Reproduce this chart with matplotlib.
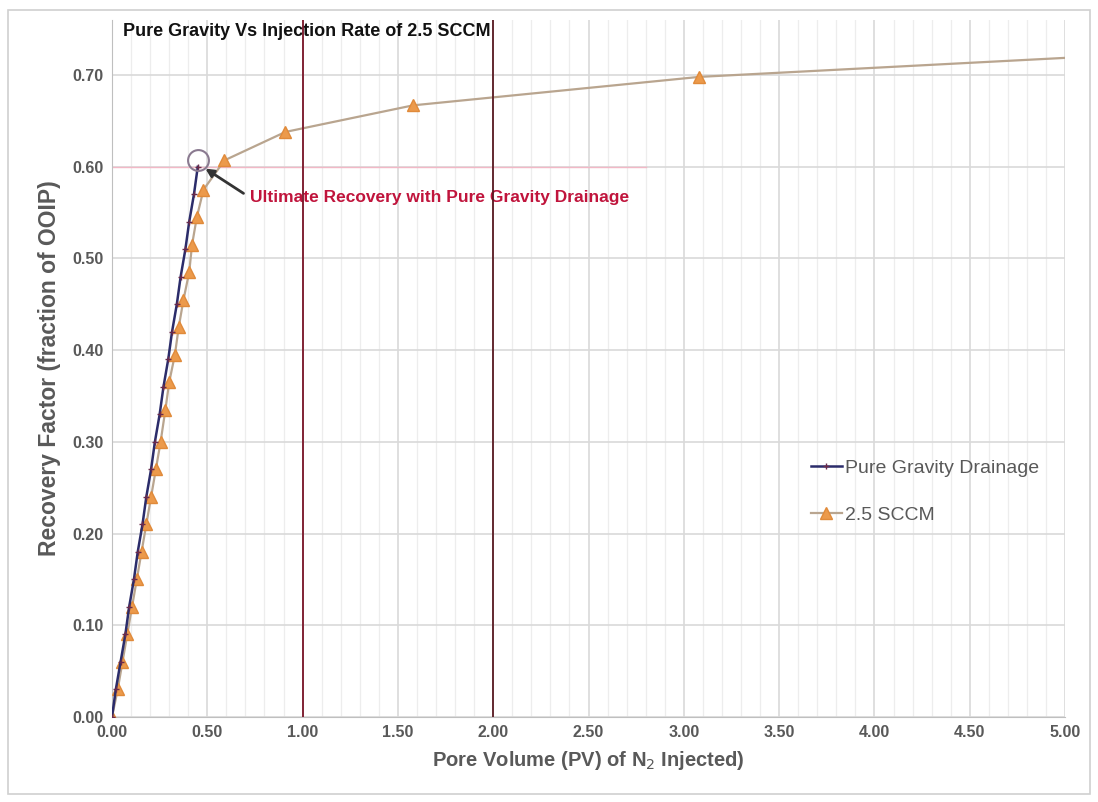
import matplotlib.pyplot as plt
from matplotlib.patches import Rectangle
from matplotlib.ticker import MultipleLocator, FormatStrFormatter

plt.rcParams["font.family"] = ["Liberation Sans", "DejaVu Sans"]

# Pure gravity drainage (PV injected, recovery factor)
gravity_pv = [0.00, 0.02, 0.045, 0.07, 0.09, 0.115, 0.135, 0.16, 0.18, 0.205, 0.225,
              0.25, 0.27, 0.295, 0.315, 0.34, 0.36, 0.385, 0.405, 0.43, 0.45]
gravity_rf = [0.00, 0.03, 0.06, 0.09, 0.12, 0.15, 0.18, 0.21, 0.24, 0.27, 0.30,
              0.33, 0.36, 0.39, 0.42, 0.45, 0.48, 0.51, 0.54, 0.57, 0.60]

# 2.5 SCCM injection
sccm_pv = [0.00, 0.03, 0.055, 0.08, 0.105, 0.13, 0.155, 0.18, 0.205, 0.23, 0.255,
           0.28, 0.30, 0.33, 0.35, 0.375, 0.405, 0.42, 0.445, 0.48,
           0.59, 0.91, 1.58, 3.08, 5.3]
sccm_rf = [0.00, 0.03, 0.06, 0.09, 0.12, 0.15, 0.18, 0.21, 0.24, 0.27, 0.30,
           0.335, 0.365, 0.395, 0.425, 0.455, 0.485, 0.515, 0.545, 0.575,
           0.607, 0.638, 0.667, 0.698, 0.722]

ultimate_pv = 0.45
ultimate_rf = 0.607

fig = plt.figure(figsize=(10.98, 8.02), dpi=100)
ax = fig.add_axes([0.102, 0.106, 0.868, 0.869])

fig.patches.append(Rectangle((0.007, 0.01), 0.986, 0.978, transform=fig.transFigure,
                             fill=False, edgecolor="#d0d0d0", lw=1.2))

ax.set_xlim(0, 5.0)
ax.set_ylim(0, 0.76)
ax.xaxis.set_major_locator(MultipleLocator(0.5))
ax.xaxis.set_minor_locator(MultipleLocator(0.1))
ax.xaxis.set_major_formatter(FormatStrFormatter("%.2f"))
ax.yaxis.set_major_formatter(FormatStrFormatter("%.2f"))
ax.set_yticks([0.0, 0.1, 0.2, 0.3, 0.4, 0.5, 0.6, 0.7])
ax.grid(True, which="major", color="#d9d9d9", lw=1.2)
ax.grid(True, which="minor", axis="x", color="#ededed", lw=0.9)
ax.set_axisbelow(True)
for s in ax.spines.values():
    s.set_visible(False)
ax.spines["left"].set_visible(True)
ax.spines["left"].set_color("#bfbfbf")
ax.spines["bottom"].set_visible(True)
ax.spines["bottom"].set_color("#bfbfbf")
ax.tick_params(which="both", length=0, labelsize=11.5, labelcolor="#595959", pad=6)
for lab in ax.get_xticklabels() + ax.get_yticklabels():
    lab.set_fontweight("bold")

ax.plot([0, 2.8], [0.6, 0.6], color="#f2b8c6", lw=1.0)

ax.plot(sccm_pv, sccm_rf, color="#b9a58f", lw=1.6, marker="^", ms=8,
        mfc="#ec9a4b", mec="#e08a3a", label="2.5 SCCM", zorder=3)
ax.plot(gravity_pv, gravity_rf, color="#2b2c6a", lw=1.8, marker="+", ms=5,
        mec="#6b2a4a", label="Pure Gravity Drainage", zorder=4)

ax.plot([ultimate_pv], [ultimate_rf], marker="o", ms=15, mfc="none",
        mec="#8a7a90", mew=1.5, zorder=5)
ax.annotate("", xy=(0.49, 0.598), xytext=(0.69, 0.571),
            arrowprops=dict(arrowstyle="-|>", color="#333333", lw=2.0,
                            mutation_scale=12, shrinkA=0, shrinkB=0))
ax.text(0.725, 0.567, "Ultimate Recovery with Pure Gravity Drainage",
        color="#c0143c", fontsize=12.5, fontweight="bold", va="center", zorder=2)

ax.text(0.012, 0.984, "Pure Gravity Vs Injection Rate of 2.5 SCCM",
        transform=ax.transAxes, fontsize=13, fontweight="bold", color="#111111",
        va="center", ha="left", zorder=2)

ax.axvline(1.0, color="#7a1528", lw=1.3, zorder=6)
ax.axvline(2.0, color="#5a1a22", lw=1.3, zorder=6)

handles, labels = ax.get_legend_handles_labels()
ax.legend(handles[::-1], labels[::-1], loc="center left", bbox_to_anchor=(0.715, 0.323),
          frameon=False, fontsize=14, labelcolor="#595959", handlelength=1.6,
          labelspacing=1.5, handletextpad=0.15)

ax.set_xlabel("Pore Volume (PV) of N$_2$ Injected)", fontsize=14.5, fontweight="bold",
              color="#595959", labelpad=6)
ax.set_ylabel("Recovery Factor (fraction of OOIP)", fontsize=16.5, fontweight="bold",
              color="#595959", labelpad=8)

fig.savefig("out.png", dpi=100)
